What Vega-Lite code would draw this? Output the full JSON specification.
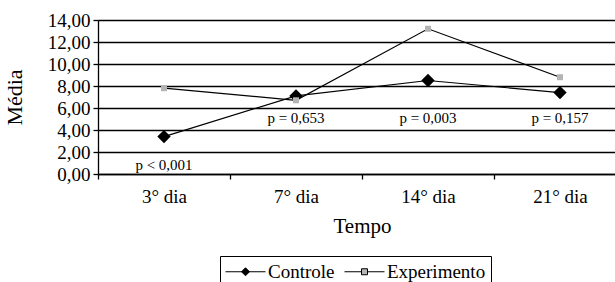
{
  "$schema": "https://vega.github.io/schema/vega-lite/v6.json",
  "width": 517,
  "height": 154,
  "autosize": {"type": "none"},
  "padding": {"left": 98, "top": 20, "right": 0, "bottom": 108},
  "background": "white",
  "config": {
    "view": {"stroke": null},
    "font": "Liberation Serif",
    "axis": {
      "labelFont": "Liberation Serif",
      "titleFont": "Liberation Serif",
      "labelColor": "black",
      "titleColor": "black",
      "domainColor": "black",
      "tickColor": "black",
      "titleFontWeight": "normal"
    },
    "legend": {
      "labelFont": "Liberation Serif",
      "labelFontSize": 19,
      "labelColor": "black"
    }
  },
  "datasets": {
    "series": [
      {"dia": "3° dia", "serie": "Controle", "media": 3.4},
      {"dia": "7° dia", "serie": "Controle", "media": 7.1},
      {"dia": "14° dia", "serie": "Controle", "media": 8.5},
      {"dia": "21° dia", "serie": "Controle", "media": 7.4},
      {"dia": "3° dia", "serie": "Experimento", "media": 7.8},
      {"dia": "7° dia", "serie": "Experimento", "media": 6.7},
      {"dia": "14° dia", "serie": "Experimento", "media": 13.2},
      {"dia": "21° dia", "serie": "Experimento", "media": 8.8}
    ],
    "pvals": [
      {"dia": "3° dia", "pos": 0.8, "label": "p < 0,001"},
      {"dia": "7° dia", "pos": 5.1, "label": "p = 0,653"},
      {"dia": "14° dia", "pos": 5.1, "label": "p = 0,003"},
      {"dia": "21° dia", "pos": 5.1, "label": "p = 0,157"}
    ]
  },
  "layer": [
    {
      "data": {"name": "series"},
      "mark": {"type": "line", "color": "black", "strokeWidth": 1.2},
      "encoding": {
        "x": {
          "field": "dia",
          "type": "nominal",
          "sort": ["3° dia", "7° dia", "14° dia", "21° dia"],
          "scale": {"range": [0, 528], "paddingInner": 0, "paddingOuter": 0},
          "axis": {
            "title": "Tempo",
            "titleFont": "Liberation Serif",
            "titleFontSize": 21,
            "titlePadding": 9,
            "labelFont": "Liberation Serif",
            "labelFontSize": 19,
            "labelAngle": 0,
            "labelPadding": 8,
            "tickSize": 5,
            "tickBand": "extent",
            "domainWidth": 1.3,
            "tickWidth": 1.3
          }
        },
        "y": {
          "field": "media",
          "type": "quantitative",
          "scale": {"domain": [0, 14]},
          "axis": {
            "title": "Média",
            "titleFont": "Liberation Serif",
            "titleFontSize": 22,
            "titlePadding": 21,
            "values": [0, 2, 4, 6, 8, 10, 12, 14],
            "tickCount": 14,
            "labelExpr": "replace(format(datum.value, '.2f'), '.', ',')",
            "labelFont": "Liberation Serif",
            "labelFontSize": 19,
            "labelPadding": 3,
            "labelOverlap": false,
            "labelBound": false,
            "tickSize": 5,
            "grid": true,
            "gridColor": "black",
            "gridWidth": 1.3,
            "gridOpacity": 1,
            "domainWidth": 1.3,
            "tickWidth": 1.3
          }
        },
        "detail": {"field": "serie"}
      }
    },
    {
      "data": {"name": "series"},
      "mark": {"type": "point", "filled": true, "opacity": 1},
      "encoding": {
        "x": {"field": "dia", "type": "nominal", "sort": ["3° dia", "7° dia", "14° dia", "21° dia"]},
        "y": {"field": "media", "type": "quantitative"},
        "color": {
          "field": "serie",
          "type": "nominal",
          "scale": {"domain": ["Controle", "Experimento"], "range": ["black", "#b4b4b4"]},
          "legend": {
            "orient": "none",
            "legendX": 122,
            "legendY": 236,
            "direction": "horizontal",
            "title": null,
            "strokeColor": "black",
            "padding": 5,
            "symbolSize": 400,
            "symbolOffset": 10,
            "symbolType": "M-2,0L2,0M0,-0.4L0.4,0L0,0.4L-0.4,0Z",
            "labelFontSize": 19,
            "labelFont": "Liberation Serif",
            "labelColor": "black",
            "labelOffset": 12,
            "columnPadding": 7,
            "symbolOpacity": 1,
            "symbolStrokeColor": "black",
            "symbolStrokeWidth": 1,
            "encode": {
              "symbols": {
                "update": {
                  "shape": {"signal": "datum.value === 'Controle' ? 'M-2,0L2,0M0,-0.4L0.4,0L0,0.4L-0.4,0Z' : 'M-2,0L-0.3,0M0.3,0L2,0M-0.3,-0.3L0.3,-0.3L0.3,0.3L-0.3,0.3Z'"},
                  "stroke": {"value": "black"},
                  "strokeWidth": {"value": 1}
                }
              },
              "labels": {
                "update": {
                  "font": {"value": "Liberation Serif"},
                  "fontSize": {"value": 19}
                }
              }
            }
          }
        },
        "shape": {
          "condition": {"test": "datum.serie === 'Controle'", "value": "diamond"},
          "value": "square"
        },
        "size": {
          "condition": {"test": "datum.serie === 'Controle'", "value": 180},
          "value": 36
        }
      }
    },
    {
      "data": {"name": "pvals"},
      "mark": {"type": "text", "fontSize": 15, "font": "Liberation Serif", "color": "black"},
      "encoding": {
        "x": {"field": "dia", "type": "nominal", "sort": ["3° dia", "7° dia", "14° dia", "21° dia"]},
        "y": {"field": "pos", "type": "quantitative"},
        "text": {"field": "label"}
      }
    }
  ]
}
